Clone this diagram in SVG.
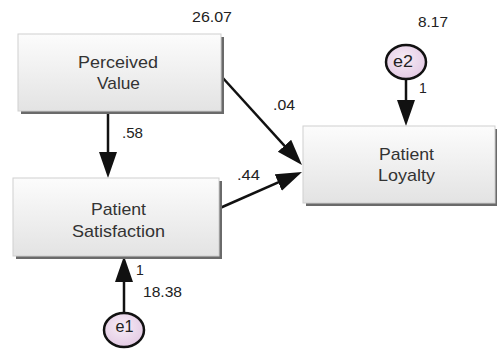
<svg xmlns="http://www.w3.org/2000/svg" width="497" height="349" viewBox="0 0 497 349">
<style>
.box{fill:url(#boxg);stroke:#cfcfcf;stroke-width:1}
.shadow{fill:#6a6a6a}
.lbl{font-family:"Liberation Sans",Arial,sans-serif;font-size:17px;fill:#333;text-anchor:middle}
.num{font-family:"Liberation Sans",Arial,sans-serif;font-size:14px;fill:#222}
.err{fill:url(#errg);stroke:#111;stroke-width:2.5}
.elbl{font-family:"Liberation Sans",Arial,sans-serif;font-size:17px;fill:#222;text-anchor:middle}
.conn{stroke:#111;stroke-width:2.5;fill:none;marker-end:url(#ah)}
</style>
<defs>
<linearGradient id="boxg" x1="0" y1="0" x2="0" y2="1">
<stop offset="0" stop-color="#fcfcfc"/>
<stop offset="1" stop-color="#e3e3e3"/>
</linearGradient>
<radialGradient id="errg" cx="0.45" cy="0.4" r="0.6">
<stop offset="0" stop-color="#f6ecf6"/>
<stop offset="1" stop-color="#e4cbe4"/>
</radialGradient>
<marker id="ah" markerUnits="userSpaceOnUse" markerWidth="28" markerHeight="20" refX="18" refY="9" orient="auto">
<path d="M0,0 L26,9 L0,18 z" fill="#111"/>
</marker>
</defs>
<rect width="497" height="349" fill="#fff"/>

<g id="connectors">
<line class="conn" x1="108" y1="112" x2="108" y2="170"/>
<line class="conn" x1="222" y1="77" x2="296.6" y2="159.1"/>
<line class="conn" x1="220" y1="208" x2="294.7" y2="175.2"/>
<line class="conn" x1="406" y1="79" x2="406" y2="118"/>
<line class="conn" x1="124" y1="313" x2="124" y2="264"/>
<text class="num" x="122" y="138" textLength="21" lengthAdjust="spacingAndGlyphs">.58</text>
<text class="num" x="273" y="110" textLength="22" lengthAdjust="spacingAndGlyphs">.04</text>
<text class="num" x="237" y="180" textLength="23" lengthAdjust="spacingAndGlyphs">.44</text>
<text class="num" x="419" y="93">1</text>
<text class="num" x="136" y="275">1</text>
</g>

<g id="perceived-value">
<rect class="shadow" x="21" y="37" width="203" height="77"/>
<rect class="box" x="18" y="34" width="203" height="77"/>
<text class="lbl" x="118" y="68" textLength="80" lengthAdjust="spacingAndGlyphs">Perceived</text>
<text class="lbl" x="118.5" y="89" textLength="43" lengthAdjust="spacingAndGlyphs">Value</text>
<text class="num" x="192" y="22" textLength="40" lengthAdjust="spacingAndGlyphs">26.07</text>
</g>

<g id="patient-satisfaction">
<rect class="shadow" x="16" y="181" width="206" height="78"/>
<rect class="box" x="13" y="178" width="206" height="78"/>
<text class="lbl" x="118.5" y="215" textLength="55" lengthAdjust="spacingAndGlyphs">Patient</text>
<text class="lbl" x="118.5" y="237" textLength="93" lengthAdjust="spacingAndGlyphs">Satisfaction</text>
</g>

<g id="patient-loyalty">
<rect class="shadow" x="306" y="129" width="192" height="77"/>
<rect class="box" x="303" y="126" width="192" height="77"/>
<text class="lbl" x="406.5" y="160" textLength="55" lengthAdjust="spacingAndGlyphs">Patient</text>
<text class="lbl" x="406.5" y="181" textLength="57" lengthAdjust="spacingAndGlyphs">Loyalty</text>
</g>

<g id="e2">
<ellipse class="err" cx="406" cy="62" rx="20" ry="17"/>
<text class="elbl" x="403" y="67" textLength="20" lengthAdjust="spacingAndGlyphs">e2</text>
<text class="num" x="418" y="27" textLength="30" lengthAdjust="spacingAndGlyphs">8.17</text>
</g>

<g id="e1">
<ellipse class="err" cx="124" cy="330" rx="20" ry="17"/>
<text class="elbl" x="124.5" y="332" textLength="18" lengthAdjust="spacingAndGlyphs">e1</text>
<text class="num" x="143" y="297" textLength="39" lengthAdjust="spacingAndGlyphs">18.38</text>
</g>
</svg>
